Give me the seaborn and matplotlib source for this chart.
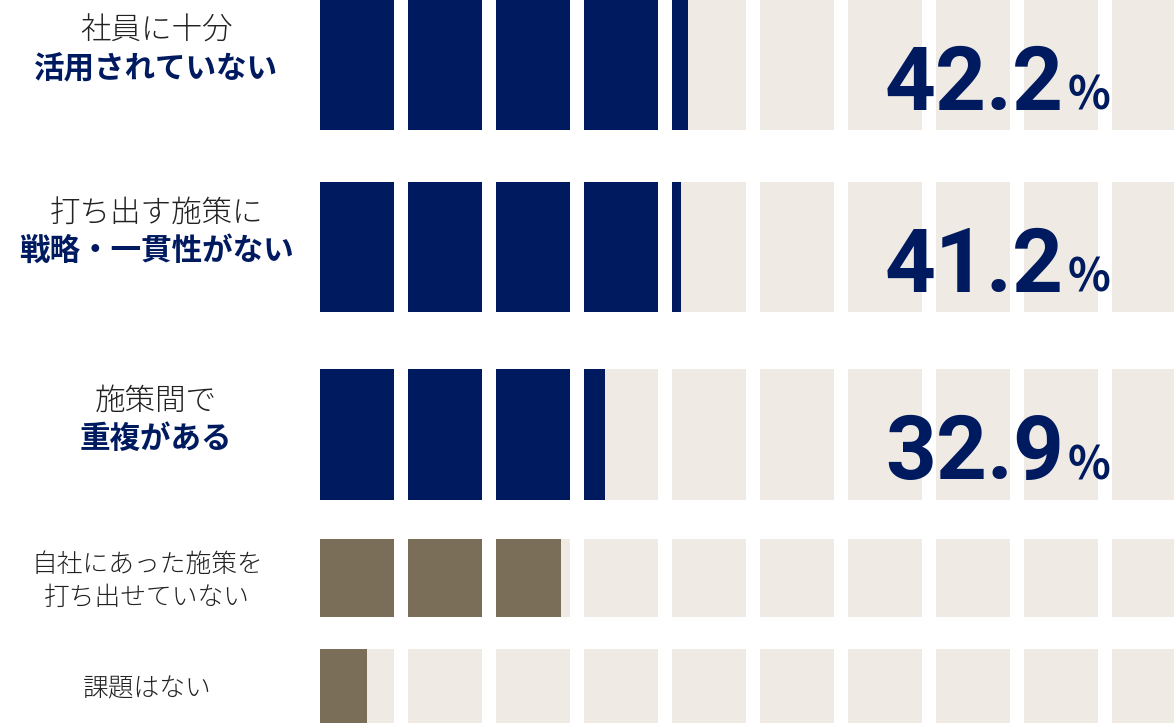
"""課題アンケート - セグメント型横棒グラフ"""

import numpy as np
import matplotlib
matplotlib.use("Agg")
import matplotlib.pyplot as plt
import seaborn as sns

sns.set_theme(style="white")
plt.rcParams['font.family'] = ['Noto Sans CJK JP', 'DejaVu Sans']

# ---- data ----
line1_labels = ['社員に十分', '打ち出す施策に', '施策間で', '自社にあった施策を', '課題はない']
line2_labels = ['活用されていない', '戦略・一貫性がない', '重複がある', '打ち出せていない', '']
values = [42.2, 41.2, 32.9, 28.8, 6.4]
show_value = [True, True, True, False, False]
highlight = [True, True, True, False, False]

# ---- layout / style ----
W, H = 1174, 723
X0 = 320            # px where the bars start
PX_PER_UNIT = 8.8   # 10% = 88 px
SEG_W = 74 / 8.8    # segment width in % units (gap = 14 px)
ROW_Y = [65, 247, 434.5, 578, 688]     # row centers, px from top
ROW_H = [130, 130, 131, 78, 78]

NAVY = '#001a60'
BROWN = '#7b6e58'
BEIGE = '#efebe4'
TEXT = '#222222'
CJK = ['Noto Sans CJK JP', 'DejaVu Sans']

fig = plt.figure(figsize=(W / 100, H / 100), dpi=100)
ax = fig.add_axes([X0 / W, 0, (W - X0) / W, 1])
ax.set_xlim(0, (W - X0) / PX_PER_UNIT)
ax.set_ylim(H, 0)
ax.axis('off')


def px(x):
    return (x - X0) / PX_PER_UNIT


for i, v in enumerate(values):
    y, h = ROW_Y[i], ROW_H[i]
    fill = NAVY if highlight[i] else BROWN
    # background segments
    for k in range(10):
        ax.barh(y, SEG_W, left=k * 10, height=h, color=BEIGE, linewidth=0)
    # filled segments
    n_full = int(v // 10)
    for k in range(n_full):
        ax.barh(y, SEG_W, left=k * 10, height=h, color=fill, linewidth=0)
    rem = v - n_full * 10
    if rem > 0:
        ax.barh(y, rem / 10 * SEG_W, left=n_full * 10, height=h, color=fill, linewidth=0)

    # value text
    if show_value[i]:
        ax.text(px(1064), y + 45, f"{v:.1f}", ha='right', va='baseline',
                fontsize=64, fontweight='bold', color=NAVY,
                family=['Roboto', 'DejaVu Sans'])
        ax.text(px(1068), y + 45, "%", ha='left', va='baseline',
                fontsize=32, fontweight='bold', color=NAVY, family=CJK)

    # category labels
    if highlight[i]:
        ax.text(px(156), y - 34, line1_labels[i], ha='center', va='center',
                fontsize=22, fontweight='light', color=TEXT, clip_on=False)
        ax.text(px(156), y + 4, line2_labels[i], ha='center', va='center',
                fontsize=22, fontweight='bold', color=NAVY, clip_on=False)
    elif line2_labels[i]:
        ax.text(px(147), y - 13, line1_labels[i], ha='center', va='center',
                fontsize=18.5, fontweight='light', color=TEXT, clip_on=False)
        ax.text(px(147), y + 20, line2_labels[i], ha='center', va='center',
                fontsize=18.5, fontweight='light', color=TEXT, clip_on=False)
    else:
        ax.text(px(147), y + 1, line1_labels[i], ha='center', va='center',
                fontsize=18.5, fontweight='light', color=TEXT, clip_on=False)

fig.savefig("out.png", dpi=100, facecolor='white')
plt.close(fig)
